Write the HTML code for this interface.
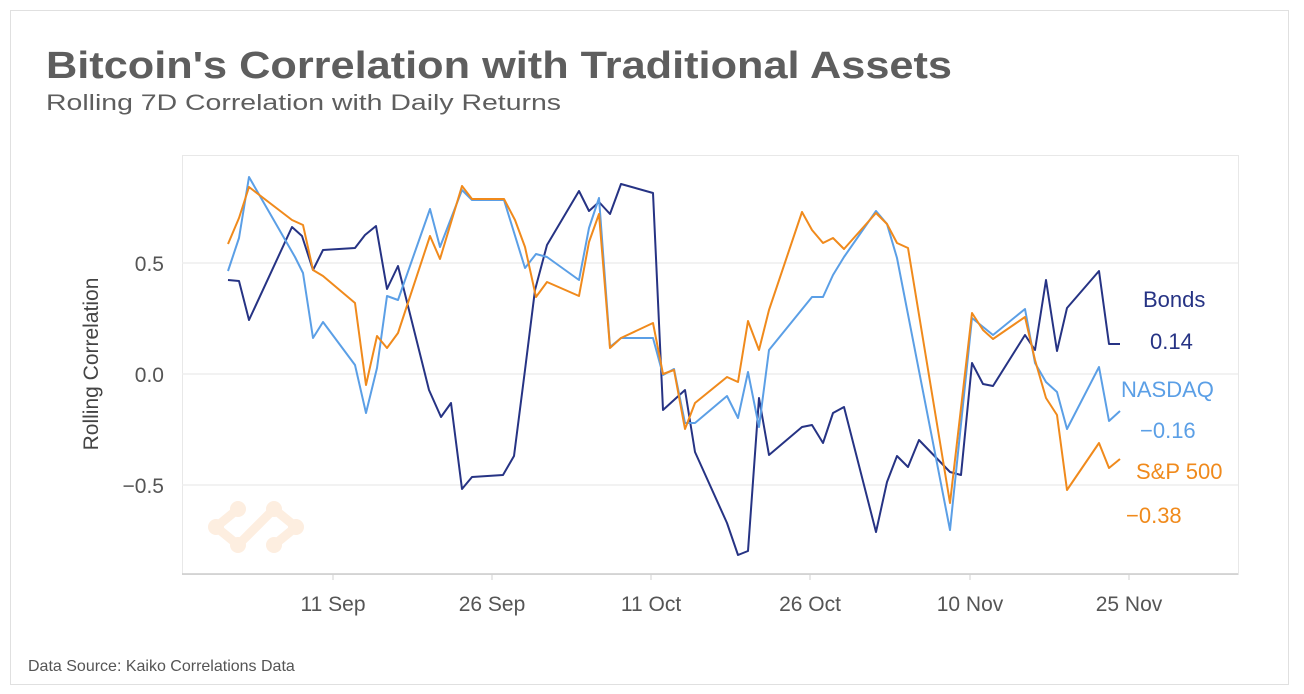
<!DOCTYPE html>
<html><head><meta charset="utf-8"><style>
body{margin:0;background:#fff;}
svg{display:block;font-family:"Liberation Sans",sans-serif;}
</style></head><body>
<svg width="1304" height="694" viewBox="0 0 1304 694">
<rect x="10.5" y="10.5" width="1278" height="674" fill="#fff" stroke="#e0e0e0"/>
<text x="46" y="78" font-size="38" font-weight="bold" fill="#5e5e5e" textLength="906" lengthAdjust="spacingAndGlyphs">Bitcoin's Correlation with Traditional Assets</text>
<text x="46" y="110" font-size="22" fill="#5e5e5e" textLength="515" lengthAdjust="spacingAndGlyphs">Rolling 7D Correlation with Daily Returns</text>
<rect x="182.5" y="155.5" width="1056" height="419" fill="none" stroke="#e8e8e8"/>
<line x1="182" y1="263" x2="1238" y2="263" stroke="#eeeeee" stroke-width="1.5"/>
<line x1="182" y1="374" x2="1238" y2="374" stroke="#eeeeee" stroke-width="1.5"/>
<line x1="182" y1="485" x2="1238" y2="485" stroke="#eeeeee" stroke-width="1.5"/>
<line x1="182" y1="574" x2="1238" y2="574" stroke="#cccccc" stroke-width="1.5"/>
<g stroke="#d0d0d0"><line x1="333" y1="574" x2="333" y2="580"/><line x1="492" y1="574" x2="492" y2="580"/><line x1="651" y1="574" x2="651" y2="580"/><line x1="810" y1="574" x2="810" y2="580"/><line x1="970" y1="574" x2="970" y2="580"/><line x1="1129" y1="574" x2="1129" y2="580"/></g>
<g font-size="21" fill="#555" text-anchor="end"><text x="164" y="271">0.5</text><text x="164" y="382">0.0</text><text x="164" y="493">−0.5</text></g>
<g font-size="21" fill="#555" text-anchor="middle"><text x="333" y="611">11 Sep</text><text x="492" y="611">26 Sep</text><text x="651" y="611">11 Oct</text><text x="810" y="611">26 Oct</text><text x="970" y="611">10 Nov</text><text x="1129" y="611">25 Nov</text></g>
<text transform="translate(98,364) rotate(-90)" font-size="21" fill="#444" text-anchor="middle">Rolling Correlation</text>
<g fill="none" stroke="#fdeee0" stroke-width="9" stroke-linecap="round"><path d="M238,509 L216,527 L238,545 L274,509 L296,527 L274,545"/></g>
<g fill="#fdeee0"><circle cx="238" cy="509" r="8"/><circle cx="238" cy="545" r="8"/><circle cx="274" cy="509" r="8"/><circle cx="274" cy="545" r="8"/><circle cx="216" cy="527" r="8"/><circle cx="296" cy="527" r="8"/></g>
<g fill="none" stroke-width="2" stroke-linejoin="round">
<polyline stroke="#263384" points="228,280 239,281 249,320 292,227 302,236 313,270 323,250 355,248 365,235 376,226 387,289 398,266 429,390 441,417 451,403 462,489 472,477 503,475 514,456 525,370 535,290 547,245 579,191 589,211 599,202 610,214 621,184 653,193 663,410 685,390 695,452 727,523 738,555 748,551 759,398 769,455 802,427 812,425 823,443 833,413 844,407 876,532 887,482 897,456 908,467 919,440 950,472 961,475 972,363 983,384 993,386 1025,335 1035,350 1046,280 1057,351 1067,308 1099,271 1109,344 1120,344"/>
<polyline stroke="#5b9fe6" points="228,271 239,238 249,177 295,257 303,273 313,338 323,322 355,365 366,413 377,368 387,296 398,300 430,209 440,247 462,190 472,200 504,200 525,268 536,254 547,257 579,280 589,228 599,198 610,347 621,338 653,338 663,375 674,369 685,423 695,423 727,396 738,418 748,372 759,427 769,350 812,297 823,297 833,275 844,257 876,211 887,224 897,258 950,530 972,318 993,335 1025,309 1035,363 1046,382 1057,392 1067,429 1099,367 1109,421 1120,411"/>
<polyline stroke="#f08a1c" points="228,244 239,218 249,187 292,220 303,225 313,270 323,276 355,303 366,385 377,336 387,348 398,333 430,236 440,259 462,186 472,199 504,199 515,220 525,247 536,297 547,282 579,296 589,242 599,214 610,348 621,338 653,323 663,374 674,370 685,429 695,403 727,377 738,382 748,321 759,350 769,310 802,212 812,230 823,243 833,238 844,249 876,213 887,224 897,243 908,248 950,503 972,313 983,330 993,339 1025,317 1035,360 1046,398 1057,415 1067,490 1099,443 1109,468 1120,459"/>
</g>
<g font-size="22">
<text x="1143" y="307" fill="#263384">Bonds</text>
<text x="1150" y="349" fill="#263384">0.14</text>
<text x="1121" y="397" fill="#5b9fe6">NASDAQ</text>
<text x="1140" y="438" fill="#5b9fe6">−0.16</text>
<text x="1136" y="479" fill="#f08a1c">S&amp;P 500</text>
<text x="1126" y="523" fill="#f08a1c">−0.38</text>
</g>
<text x="28" y="671" font-size="16" fill="#555">Data Source: Kaiko Correlations Data</text>
</svg>
</body></html>
